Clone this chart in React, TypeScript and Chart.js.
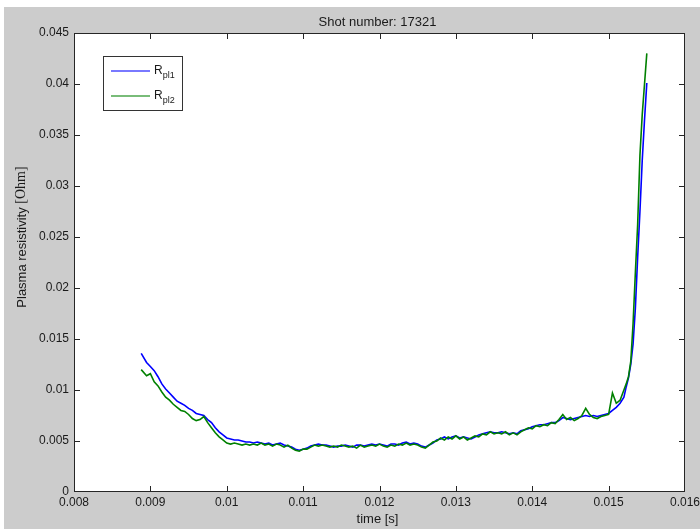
import React, { useEffect, useRef } from 'react';
import { Chart, registerables } from 'chart.js';

Chart.register(...registerables);

const TITLE = 'Shot number: 17321';
const X_LABEL = 'time [s]';
const Y_LABEL_MAIN = 'Plasma resistivity ';
const Y_LABEL_UNIT = '[Ohm]';

const X_TICKS = [0.008, 0.009, 0.01, 0.011, 0.012, 0.013, 0.014, 0.015, 0.016];
const X_TICK_LABELS = ['0.008', '0.009', '0.01', '0.011', '0.012', '0.013', '0.014', '0.015', '0.016'];
const Y_TICKS = [0, 0.005, 0.01, 0.015, 0.02, 0.025, 0.03, 0.035, 0.04, 0.045];
const Y_TICK_LABELS = ['0', '0.005', '0.01', '0.015', '0.02', '0.025', '0.03', '0.035', '0.04', '0.045'];

const SERIES_BASE = ['R', 'R'];
const SERIES_SUB = ['pl1', 'pl2'];
const SERIES_COLORS = ['#0000ff', '#008000'];

const TIME = [
  0.00888, 0.00895, 0.00900, 0.00905, 0.00910, 0.00915, 0.00920, 0.00925, 0.00930, 0.00935,
  0.00940, 0.00945, 0.00950, 0.00955, 0.00960, 0.00965, 0.00970, 0.00975, 0.00980, 0.00985,
  0.00990, 0.00995, 0.01000, 0.01005, 0.01010, 0.01015, 0.01020, 0.01025, 0.01030, 0.01035,
  0.01040, 0.01045, 0.01050, 0.01055, 0.01060, 0.01065, 0.01070, 0.01075, 0.01080, 0.01085,
  0.01090, 0.01095, 0.01100, 0.01105, 0.01110, 0.01115, 0.01120, 0.01125, 0.01130, 0.01135,
  0.01140, 0.01145, 0.01150, 0.01155, 0.01160, 0.01165, 0.01170, 0.01175, 0.01180, 0.01185,
  0.01190, 0.01195, 0.01200, 0.01205, 0.01210, 0.01215, 0.01220, 0.01225, 0.01230, 0.01235,
  0.01240, 0.01245, 0.01250, 0.01255, 0.01260, 0.01265, 0.01270, 0.01275, 0.01280, 0.01285,
  0.01290, 0.01295, 0.01300, 0.01305, 0.01310, 0.01315, 0.01320, 0.01325, 0.01330, 0.01335,
  0.01340, 0.01345, 0.01350, 0.01355, 0.01360, 0.01365, 0.01370, 0.01375, 0.01380, 0.01385,
  0.01390, 0.01395, 0.01400, 0.01405, 0.01410, 0.01415, 0.01420, 0.01425, 0.01430, 0.01435,
  0.01440, 0.01445, 0.01450, 0.01455, 0.01460, 0.01465, 0.01470, 0.01475, 0.01480, 0.01485,
  0.01490, 0.01495, 0.01500, 0.01505, 0.01510, 0.01515,
  0.01520, 0.01523, 0.01526, 0.01529, 0.01532, 0.01535, 0.01538, 0.01541, 0.01544, 0.01547, 0.01550,
];

const R_PL1 = [
  0.0136, 0.0127, 0.0123, 0.0119, 0.0113, 0.0106, 0.0101, 0.0097, 0.0093, 0.0089,
  0.0087, 0.0085, 0.0082, 0.0080, 0.0077, 0.0076, 0.0075, 0.0071, 0.0068, 0.0063,
  0.0059, 0.0056, 0.0053, 0.0052, 0.0051, 0.0051, 0.0050, 0.0049, 0.0049, 0.0048,
  0.0049, 0.0048, 0.0047, 0.0048, 0.0046, 0.0047, 0.0048, 0.0046, 0.0045, 0.0044,
  0.0042, 0.0041, 0.0042, 0.0043, 0.0045, 0.0046, 0.0047, 0.0046, 0.0046, 0.0045,
  0.0044, 0.0045, 0.0045, 0.0046, 0.0045, 0.0044, 0.0046, 0.0046, 0.0045, 0.0046,
  0.0047, 0.0046, 0.0047, 0.0046, 0.0045, 0.0047, 0.0047, 0.0046, 0.0048, 0.0049,
  0.0047, 0.0048, 0.0047, 0.0045, 0.0044, 0.0046, 0.0048, 0.0051, 0.0052, 0.0054,
  0.0052, 0.0054, 0.0055, 0.0053, 0.0054, 0.0053, 0.0052, 0.0054, 0.0056, 0.0057,
  0.0058, 0.0059, 0.0058, 0.0058, 0.0059, 0.0058, 0.0057, 0.0058, 0.0057, 0.0060,
  0.0061, 0.0062, 0.0064, 0.0065, 0.0066, 0.0066, 0.0067, 0.0068, 0.0068, 0.0070,
  0.0073, 0.0072, 0.0071, 0.0072, 0.0073, 0.0074, 0.0075, 0.0074, 0.0075, 0.0074,
  0.0075, 0.0076, 0.0077, 0.0080, 0.0083, 0.0087,
  0.0093, 0.0103, 0.0112, 0.0125, 0.0145, 0.0180, 0.0230, 0.0275, 0.0325, 0.0365, 0.0401,
];

const R_PL2 = [
  0.0120, 0.0114, 0.0116, 0.0108, 0.0104, 0.0098, 0.0093, 0.0090, 0.0086, 0.0083,
  0.0080, 0.0079, 0.0076, 0.0072, 0.0070, 0.0071, 0.0074, 0.0068, 0.0063, 0.0058,
  0.0054, 0.0051, 0.0048, 0.0047, 0.0048, 0.0047, 0.0046, 0.0047, 0.0046, 0.0047,
  0.0046, 0.0048, 0.0046, 0.0047, 0.0045, 0.0047, 0.0046, 0.0044, 0.0046, 0.0043,
  0.0041, 0.0040, 0.0042, 0.0042, 0.0044, 0.0046, 0.0045, 0.0046, 0.0045, 0.0044,
  0.0045, 0.0044, 0.0046, 0.0045, 0.0044, 0.0045, 0.0043, 0.0046, 0.0044, 0.0045,
  0.0046, 0.0045, 0.0047, 0.0045, 0.0044, 0.0046, 0.0045, 0.0047, 0.0046, 0.0048,
  0.0046, 0.0047, 0.0046, 0.0044, 0.0043, 0.0046, 0.0049, 0.0050, 0.0053, 0.0051,
  0.0054, 0.0052, 0.0055, 0.0052, 0.0054, 0.0051, 0.0053, 0.0055, 0.0054, 0.0057,
  0.0056, 0.0059, 0.0057, 0.0058, 0.0057, 0.0059, 0.0056, 0.0058, 0.0056, 0.0059,
  0.0061, 0.0063, 0.0062, 0.0065, 0.0064, 0.0066, 0.0065, 0.0068, 0.0067, 0.0071,
  0.0076, 0.0071, 0.0073, 0.0070, 0.0072, 0.0075, 0.0082, 0.0076, 0.0073, 0.0072,
  0.0074, 0.0075, 0.0076, 0.0097, 0.0087, 0.0090,
  0.0100, 0.0106, 0.0113, 0.0128, 0.0165, 0.0215, 0.0262, 0.0330, 0.0370, 0.0400, 0.0430,
];

const SANS = '"Liberation Sans", Arial, sans-serif';
const SERIF = '"Liberation Serif", "Times New Roman", serif';
const TEXT_COLOR = '#1a1a1a';
const FRAME_COLOR = '#262626';

const matlabPlugin = {
  id: 'matlabLook',
  beforeDraw(chart: any) {
    const { ctx, width, height, chartArea: a } = chart;
    ctx.save();
    ctx.fillStyle = '#ffffff';
    ctx.fillRect(0, 0, width, height);
    ctx.fillStyle = '#cccccc';
    ctx.fillRect(4, 7, width - 4, height - 7);
    ctx.fillStyle = '#ffffff';
    ctx.fillRect(a.left, a.top, a.right - a.left, a.bottom - a.top);
    ctx.restore();
  },
  afterDatasetsDraw(chart: any) {
    const { ctx, chartArea: a, scales } = chart;
    const xs = scales.x;
    const ys = scales.y;
    ctx.save();
    // frame
    ctx.strokeStyle = FRAME_COLOR;
    ctx.lineWidth = 1;
    ctx.strokeRect(a.left + 0.5, a.top + 0.5, a.right - a.left - 1, a.bottom - a.top - 1);
    // inward ticks
    const tl = 6;
    ctx.beginPath();
    X_TICKS.forEach((v, i) => {
      if (i === 0 || i === X_TICKS.length - 1) return;
      const px = Math.round(xs.getPixelForValue(v)) + 0.5;
      ctx.moveTo(px, a.bottom);
      ctx.lineTo(px, a.bottom - tl);
      ctx.moveTo(px, a.top);
      ctx.lineTo(px, a.top + tl);
    });
    Y_TICKS.forEach((v, i) => {
      if (i === 0 || i === Y_TICKS.length - 1) return;
      const py = Math.round(ys.getPixelForValue(v)) + 0.5;
      ctx.moveTo(a.left, py);
      ctx.lineTo(a.left + tl, py);
      ctx.moveTo(a.right, py);
      ctx.lineTo(a.right - tl, py);
    });
    ctx.stroke();

    // tick labels
    ctx.fillStyle = TEXT_COLOR;
    ctx.font = `12px ${SANS}`;
    ctx.textAlign = 'center';
    ctx.textBaseline = 'top';
    X_TICKS.forEach((v, i) => {
      ctx.fillText(X_TICK_LABELS[i], xs.getPixelForValue(v), a.bottom + 5);
    });
    ctx.textAlign = 'right';
    ctx.textBaseline = 'middle';
    Y_TICKS.forEach((v, i) => {
      ctx.fillText(Y_TICK_LABELS[i], a.left - 5, ys.getPixelForValue(v));
    });

    // title
    const cx = (a.left + a.right) / 2;
    ctx.font = `13px ${SANS}`;
    ctx.textAlign = 'center';
    ctx.textBaseline = 'middle';
    ctx.fillText(TITLE, cx - 2, 22);
    // x label
    ctx.fillText(X_LABEL, cx - 2, 519);

    // y label (rotated, mixed fonts)
    ctx.save();
    ctx.translate(22, 237);
    ctx.rotate(-Math.PI / 2);
    ctx.font = `13px ${SANS}`;
    const w1 = ctx.measureText(Y_LABEL_MAIN).width;
    ctx.font = `14px ${SERIF}`;
    const w2 = ctx.measureText(Y_LABEL_UNIT).width;
    const start = -(w1 + w2) / 2;
    ctx.textAlign = 'left';
    ctx.textBaseline = 'middle';
    ctx.font = `13px ${SANS}`;
    ctx.fillText(Y_LABEL_MAIN, start, 0);
    ctx.font = `14px ${SERIF}`;
    ctx.fillText(Y_LABEL_UNIT, start + w1, -0.5);
    ctx.restore();

    // legend
    const bx = a.left + 29;
    const by = a.top + 23;
    const bw = 80;
    const bh = 55;
    ctx.fillStyle = '#ffffff';
    ctx.fillRect(bx, by, bw, bh);
    ctx.strokeStyle = '#333333';
    ctx.lineWidth = 1;
    ctx.strokeRect(bx + 0.5, by + 0.5, bw - 1, bh - 1);
    const rows = [15, 40];
    SERIES_BASE.forEach((base, i) => {
      const ly = by + rows[i];
      ctx.strokeStyle = SERIES_COLORS[i];
      ctx.lineWidth = 1.5;
      ctx.globalAlpha = 0.7;
      ctx.beginPath();
      ctx.moveTo(bx + 8, ly);
      ctx.lineTo(bx + 47, ly);
      ctx.stroke();
      ctx.globalAlpha = 1;
      ctx.fillStyle = TEXT_COLOR;
      ctx.textAlign = 'left';
      ctx.textBaseline = 'alphabetic';
      ctx.font = `12px ${SANS}`;
      ctx.fillText(base, bx + 51, ly + 3);
      const rw = ctx.measureText(base).width;
      ctx.font = `9px ${SANS}`;
      ctx.fillText(SERIES_SUB[i], bx + 51 + rw, ly + 7);
    });
    ctx.restore();
  },
};

export default function App() {
  const canvasRef = useRef<HTMLCanvasElement | null>(null);

  useEffect(() => {
    const canvas = canvasRef.current;
    if (!canvas) return;
    const chart = new Chart(canvas, {
      type: 'line',
      data: {
        datasets: [
          {
            label: SERIES_BASE[0] + SERIES_SUB[0],
            data: TIME.map((t, i) => ({ x: t, y: R_PL1[i] })),
            borderColor: SERIES_COLORS[0],
            borderWidth: 1.6,
            pointRadius: 0,
            tension: 0,
            fill: false,
            order: 1,
          },
          {
            label: SERIES_BASE[1] + SERIES_SUB[1],
            data: TIME.map((t, i) => ({ x: t, y: R_PL2[i] })),
            borderColor: SERIES_COLORS[1],
            borderWidth: 1.6,
            pointRadius: 0,
            tension: 0,
            fill: false,
            order: 0,
          },
        ],
      },
      options: {
        animation: false,
        responsive: false,
        maintainAspectRatio: false,
        devicePixelRatio: 1,
        layout: { padding: { top: 33, right: 15, left: 0, bottom: 0 } },
        plugins: {
          legend: { display: false },
          title: { display: false },
          tooltip: { enabled: false },
        },
        scales: {
          x: {
            type: 'linear',
            min: 0.008,
            max: 0.016,
            grid: { display: false },
            border: { display: false },
            ticks: { display: false },
            afterBuildTicks: (scale: any) => {
              scale.ticks = X_TICKS.map((v) => ({ value: v }));
            },
            afterFit: (scale: any) => {
              scale.height = 37;
            },
          },
          y: {
            type: 'linear',
            min: 0,
            max: 0.045,
            grid: { display: false },
            border: { display: false },
            ticks: { display: false },
            afterBuildTicks: (scale: any) => {
              scale.ticks = Y_TICKS.map((v) => ({ value: v }));
            },
            afterFit: (scale: any) => {
              scale.width = 74;
            },
          },
        },
      },
      plugins: [matlabPlugin],
    });
    return () => chart.destroy();
  }, []);

  return (
    <div style={{ position: 'absolute', left: 0, top: 0, width: 700, height: 529 }}>
      <canvas ref={canvasRef} width={700} height={529} style={{ display: 'block' }} />
    </div>
  );
}
